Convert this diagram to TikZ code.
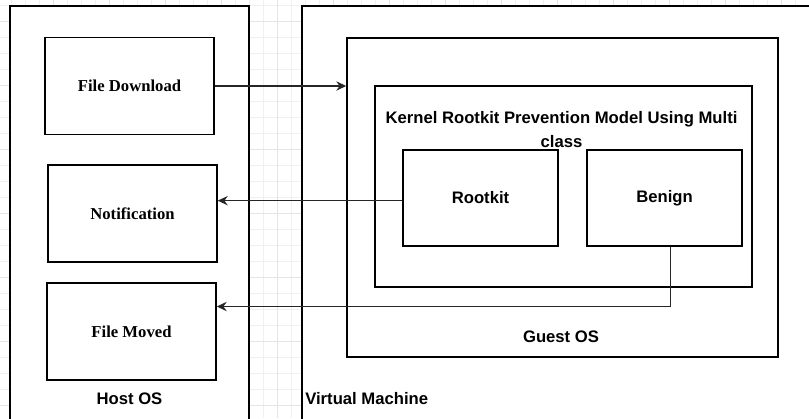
\documentclass[tikz,border=0pt]{standalone}
\usepackage{fontspec}
\setmainfont{Liberation Serif}
\setsansfont{Liberation Sans}
\usetikzlibrary{arrows.meta}

\begin{document}
\begin{tikzpicture}[x=0.75pt, y=-0.75pt, >={Stealth[length=7.5pt,width=7pt,inset=2.5pt]},
    minor line/.style={draw=black!6, line width=0.6pt},
    major line/.style={draw=black!10, line width=0.6pt},
    frame/.style={draw, line width=1.1pt, fill=white, inner sep=0pt},
    host box/.style={frame, minimum width=126.75pt, minimum height=72.75pt, font=\rmfamily\bfseries\fontsize{12.5}{15}\selectfont},
    class box/.style={frame, minimum width=116.25pt, minimum height=72pt, font=\sffamily\bfseries\fontsize{12.5}{15}\selectfont},
    caption/.style={inner sep=0pt, font=\sffamily\bfseries\fontsize{12.5}{18}\selectfont},
    link/.style={->, line width=1pt, draw=black!85}]
    \useasboundingbox (0,0) rectangle (809,418);
    \clip (0,0) rectangle (809,418);
    % background grid
    \foreach \x in {11,25,...,809}
        \draw[minor line] (\x,0) -- (\x,418);
    \foreach \y in {5.7,21.7,...,418}
        \draw[minor line] (0,\y) -- (809,\y);
    \foreach \x in {53,109,...,809}
        \draw[major line] (\x,0) -- (\x,418);
    \foreach \y in {21.7,85.7,...,418}
        \draw[major line] (0,\y) -- (809,\y);
    % containers
    \node[frame, minimum width=179.25pt, minimum height=325.5pt] (host) at (129.5,223) {};
    \node[frame, minimum width=396pt, minimum height=325.5pt] (vm) at (566,223) {};
    \node[frame, minimum width=323.25pt, minimum height=239.25pt] (guest) at (562.5,197.5) {};
    \node[frame, minimum width=282.75pt, minimum height=150.75pt] (kernel) at (563.5,186.5) {};
    % boxes
    \node[host box] (download) at (129.5,86) {File Download};
    \node[host box] (notify) at (132.5,213.5) {Notification};
    \node[host box] (moved) at (131.5,331.5) {File Moved};
    \node[class box] (rootkit) at (480.5,198) {Rootkit};
    \node[class box] (benign) at (664.5,198) {Benign};
    % captions
    \node[caption, anchor=base] (hostlbl) at (129.5,404) {Host OS};
    \node[caption, anchor=base west] (vmlbl) at (305,404) {Virtual Machine};
    \node[caption, anchor=base] (guestlbl) at (561,342) {Guest OS};
    \node[caption, anchor=base, align=center] (kernellbl) at (561.5,147) {Kernel Rootkit Prevention Model Using Multi\\class};
    % connectors
    \draw[link] (download.east) -- (download.east -| guest.west);
    \draw[link] ([yshift=-2pt]rootkit.west) -- ([yshift=-2pt]rootkit.west -| notify.east);
    \draw[link] ([xshift=4.5pt]benign.south) |- ([yshift=18.75pt]moved.east);
\end{tikzpicture}
\end{document}
